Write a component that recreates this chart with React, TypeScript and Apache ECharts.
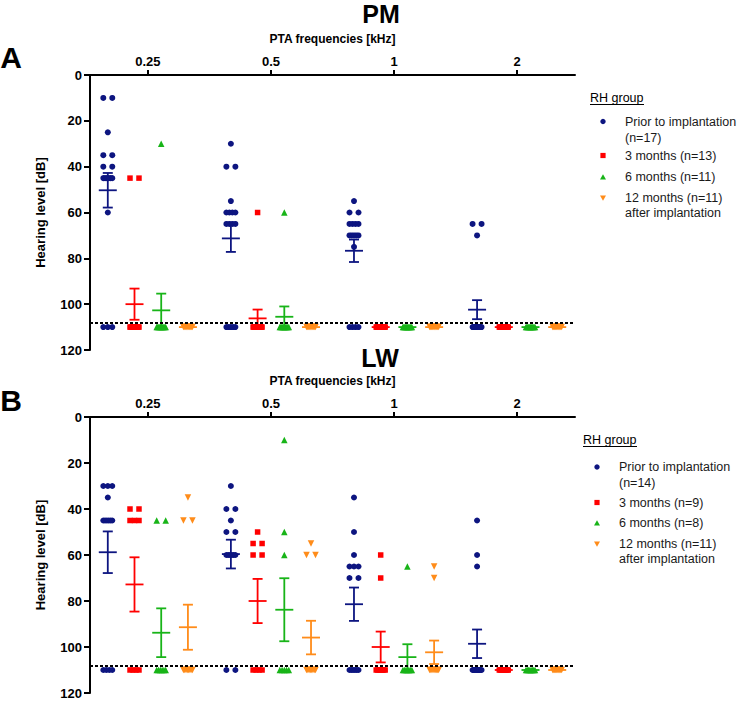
import React, { useEffect, useRef } from "react";
import * as echarts from "echarts";

// ---------- DATA ----------
const freqLabels = ["0.25", "0.5", "1", "2"];
const pmLegend = ["Prior to implantation", "(n=17)", "3 months (n=13)", "6 months (n=11)", "12 months (n=11)", "after implantation"];
const lwLegend = ["Prior to implantation", "(n=14)", "3 months (n=9)", "6 months (n=8)", "12 months (n=11)", "after implantation"];

// PM – individual hearing levels [dB], one list per frequency
const pmPrior = [
  [10, 10, 25, 35, 35, 40, 40, 45, 45, 45, 45, 45, 45, 60, 110, 110, 110],
  [30, 40, 40, 55, 60, 60, 60, 60, 65, 65, 65, 65, 110, 110, 110, 110, 110],
  [55, 60, 60, 65, 65, 65, 65, 70, 70, 70, 70, 70, 75, 110, 110, 110, 110],
  [65, 65, 70, 110, 110, 110, 110, 110, 110, 110, 110, 110, 110, 110, 110, 110, 110],
];
const pm3m = [
  [45, 45, 110, 110, 110, 110, 110, 110, 110, 110, 110, 110, 110],
  [60, 110, 110, 110, 110, 110, 110, 110, 110, 110, 110, 110, 110],
  [110, 110, 110, 110, 110, 110, 110, 110, 110, 110, 110, 110, 110],
  [110, 110, 110, 110, 110, 110, 110, 110, 110, 110, 110, 110, 110],
];
const pm6m = [
  [30, 110, 110, 110, 110, 110, 110, 110, 110, 110, 110],
  [60, 110, 110, 110, 110, 110, 110, 110, 110, 110, 110],
  [110, 110, 110, 110, 110, 110, 110, 110, 110, 110, 110],
  [110, 110, 110, 110, 110, 110, 110, 110, 110, 110, 110],
];
const pm12m = [
  [110, 110, 110, 110, 110, 110, 110, 110, 110, 110, 110],
  [110, 110, 110, 110, 110, 110, 110, 110, 110, 110, 110],
  [110, 110, 110, 110, 110, 110, 110, 110, 110, 110, 110],
  [110, 110, 110, 110, 110, 110, 110, 110, 110, 110, 110],
];
// PM – mean and SEM per frequency
const pmPriorMean = [50.3, 71.3, 76.7, 102.4];
const pmPriorSem = [7.55, 5.9, 4.9, 4.15];
const pm3mMean = [100, 106.2, 110, 110];
const pm3mSem = [6.8, 3.85, 0, 0];
const pm6mMean = [102.7, 105.5, 110, 110];
const pm6mSem = [7.3, 4.5, 0, 0];
const pm12mMean = [110, 110, 110, 110];
const pm12mSem = [0, 0, 0, 0];

// LW – individual hearing levels [dB]
const lwPrior = [
  [30, 30, 30, 35, 45, 45, 45, 45, 45, 45, 110, 110, 110, 110],
  [30, 40, 40, 45, 50, 50, 60, 60, 60, 60, 60, 60, 110, 110],
  [35, 50, 60, 65, 65, 65, 70, 70, 110, 110, 110, 110, 110, 110],
  [45, 60, 65, 110, 110, 110, 110, 110, 110, 110, 110, 110, 110, 110],
];
const lw3m = [
  [40, 40, 45, 45, 45, 110, 110, 110, 110],
  [50, 55, 55, 60, 60, 110, 110, 110, 110],
  [60, 70, 110, 110, 110, 110, 110, 110, 110],
  [110, 110, 110, 110, 110, 110, 110, 110, 110],
];
const lw6m = [
  [45, 45, 110, 110, 110, 110, 110, 110],
  [10, 50, 60, 110, 110, 110, 110, 110],
  [65, 110, 110, 110, 110, 110, 110, 110],
  [110, 110, 110, 110, 110, 110, 110, 110],
];
const lw12m = [
  [35, 45, 45, 110, 110, 110, 110, 110, 110, 110, 110],
  [55, 60, 60, 110, 110, 110, 110, 110, 110, 110, 110],
  [65, 70, 110, 110, 110, 110, 110, 110, 110, 110, 110],
  [110, 110, 110, 110, 110, 110, 110, 110, 110, 110, 110],
];
const lwPriorMean = [58.8, 59.6, 81.4, 98.6];
const lwPriorSem = [9.05, 6.25, 7.25, 6.2];
const lw3mMean = [72.8, 80, 100, 110];
const lw3mSem = [11.8, 9.6, 6.7, 0];
const lw6mMean = [93.8, 83.8, 104.4, 110];
const lw6mSem = [10.6, 13.7, 5.6, 0];
const lw12mMean = [91.4, 95.9, 102.3, 110];
const lw12mSem = [9.8, 7.3, 5.1, 0];

const thresholdDb = 108;

// ---------- STYLE ----------
const FONT = "'Liberation Sans', Arial, Helvetica, sans-serif";
const colors = ["#0d1580", "#ff0000", "#18b418", "#ff8c1a"];
const symbols = ["circle", "rect", "triangle", "path://M0,0L10,0L5,8.66Z"];
const symbolSizes = [6, 5.5, 6.5, 6.5];
const X_MIN = 0.53;
const X_MAX = 4.47;
const SUB = 0.217; // spacing between groups inside one frequency
const SWARM = 0.073; // horizontal spread of tied values

function swarm(vals: number[], center: number) {
  const counts = new Map<number, number>();
  vals.forEach((v) => counts.set(v, (counts.get(v) || 0) + 1));
  const seen = new Map<number, number>();
  return vals.map((v) => {
    const k = counts.get(v)!;
    const i = seen.get(v) || 0;
    seen.set(v, i + 1);
    const off = k === 1 ? 0 : (i / (k - 1) - 0.5) * SWARM;
    return [center + off, v];
  });
}

function errRender(color: string) {
  return (params: any, api: any) => {
    const x = api.value(0);
    const m = api.value(1);
    const s = api.value(2);
    const c = api.coord([x, m]);
    const t = api.coord([x, m - s]);
    const b = api.coord([x, m + s]);
    const style = { stroke: color, lineWidth: 1.8, fill: "none" };
    const children: any[] = [
      { type: "line", shape: { x1: c[0] - 9, y1: c[1], x2: c[0] + 9, y2: c[1] }, style },
    ];
    if (s > 0) {
      children.push(
        { type: "line", shape: { x1: t[0], y1: t[1], x2: b[0], y2: b[1] }, style },
        { type: "line", shape: { x1: t[0] - 5, y1: t[1], x2: t[0] + 5, y2: t[1] }, style },
        { type: "line", shape: { x1: b[0] - 5, y1: b[1], x2: b[0] + 5, y2: b[1] }, style }
      );
    }
    return { type: "group", children };
  };
}

const panels = [
  {
    values: [pmPrior, pm3m, pm6m, pm12m],
    means: [pmPriorMean, pm3mMean, pm6mMean, pm12mMean],
    sems: [pmPriorSem, pm3mSem, pm6mSem, pm12mSem],
    grid: { left: 90, top: 75, width: 485, height: 275 },
  },
  {
    values: [lwPrior, lw3m, lw6m, lw12m],
    means: [lwPriorMean, lw3mMean, lw6mMean, lw12mMean],
    sems: [lwPriorSem, lw3mSem, lw6mSem, lw12mSem],
    grid: { left: 90, top: 417, width: 485, height: 276 },
  },
];

function legendGraphics(x0: number, headY: number, markX: number, textX: number, lines: string[], ys: number[], markYs: number[]) {
  const els: any[] = [];
  els.push({
    type: "text",
    x: x0,
    y: headY,
    style: { text: "RH group", font: `12.5px ${FONT}`, fill: "#000", verticalAlign: "middle", align: "left" },
  });
  els.push({ type: "line", shape: { x1: x0, y1: headY + 6.5, x2: x0 + 54, y2: headY + 6.5 }, style: { stroke: "#000", lineWidth: 1 } });
  lines.forEach((t, i) => {
    els.push({
      type: "text",
      x: textX,
      y: ys[i],
      style: { text: t, font: `12.5px ${FONT}`, fill: "#1a1a1a", verticalAlign: "middle", align: "left" },
    });
  });
  els.push({ type: "circle", shape: { cx: markX, cy: markYs[0], r: 2.7 }, style: { fill: colors[0] } });
  els.push({ type: "rect", shape: { x: markX - 2.6, y: markYs[1] - 2.6, width: 5.2, height: 5.2 }, style: { fill: colors[1] } });
  els.push({
    type: "polygon",
    shape: { points: [[markX - 3, markYs[2] + 2.5], [markX + 3, markYs[2] + 2.5], [markX, markYs[2] - 2.8]] },
    style: { fill: colors[2] },
  });
  els.push({
    type: "polygon",
    shape: { points: [[markX - 3, markYs[3] - 2.5], [markX + 3, markYs[3] - 2.5], [markX, markYs[3] + 2.8]] },
    style: { fill: colors[3] },
  });
  return els;
}

function buildOption() {
  const grid: any[] = [];
  const xAxis: any[] = [];
  const yAxis: any[] = [];
  const series: any[] = [];
  panels.forEach((p, pi) => {
    grid.push({ ...p.grid, containLabel: false });
    xAxis.push({
      type: "value",
      gridIndex: pi,
      position: "top",
      min: X_MIN,
      max: X_MAX,
      name: "PTA frequencies [kHz]",
      nameLocation: "middle",
      nameGap: 30,
      nameTextStyle: { fontFamily: FONT, fontWeight: "bold", fontSize: 12, color: "#000" },
      axisLine: { show: true, onZero: false, lineStyle: { color: "#000", width: 2 } },
      axisTick: { show: true, inside: false, length: 5, customValues: [1, 2, 3, 4], lineStyle: { color: "#000", width: 2 } },
      axisLabel: {
        show: true,
        customValues: [1, 2, 3, 4],
        formatter: (v: number) => freqLabels[Math.round(v) - 1] ?? "",
        fontFamily: FONT,
        fontWeight: "bold",
        fontSize: 13,
        color: "#000",
        margin: 7,
      },
      splitLine: { show: false },
    });
    yAxis.push({
      type: "value",
      gridIndex: pi,
      inverse: true,
      min: 0,
      max: 120,
      interval: 20,
      name: "Hearing level [dB]",
      nameLocation: "middle",
      nameGap: 43,
      nameTextStyle: { fontFamily: FONT, fontWeight: "bold", fontSize: 13, color: "#000" },
      axisLine: { show: true, onZero: false, lineStyle: { color: "#000", width: 2 } },
      axisTick: { show: true, length: 6, lineStyle: { color: "#000", width: 2 } },
      axisLabel: { fontFamily: FONT, fontWeight: "bold", fontSize: 13, color: "#000", margin: 8 },
      splitLine: { show: false },
    });
    p.values.forEach((grp, gi) => {
      const data: number[][] = [];
      grp.forEach((vals, fi) => {
        data.push(...swarm(vals, fi + 1 + (gi - 1.5) * SUB));
      });
      const s: any = {
        type: "scatter",
        xAxisIndex: pi,
        yAxisIndex: pi,
        data,
        symbol: symbols[gi],
        symbolSize: symbolSizes[gi],
        itemStyle: { color: colors[gi], opacity: 1 },
        silent: true,
        z: 2,
      };
      if (gi === 3) {
        s.markLine = {
          silent: true,
          symbol: "none",
          label: { show: false },
          lineStyle: { color: "#000", type: [3, 2], width: 2 },
          data: [{ yAxis: thresholdDb }],
          z: 5,
        };
      }
      series.push(s);
      series.push({
        type: "custom",
        xAxisIndex: pi,
        yAxisIndex: pi,
        data: p.means[gi].map((m, fi) => [fi + 1 + (gi - 1.5) * SUB, m, p.sems[gi][fi]]),
        encode: { x: 0, y: 1 },
        renderItem: errRender(colors[gi]),
        silent: true,
        z: 3,
      });
    });
  });

  const graphic: any[] = [
    { type: "text", x: 11, y: 57, style: { text: "A", font: `bold 30px ${FONT}`, fill: "#000", align: "center", verticalAlign: "middle" } },
    { type: "text", x: 11, y: 400, style: { text: "B", font: `bold 30px ${FONT}`, fill: "#000", align: "center", verticalAlign: "middle" } },
    { type: "text", x: 381, y: 14, style: { text: "PM", font: `bold 25px ${FONT}`, fill: "#000", align: "center", verticalAlign: "middle" } },
    { type: "text", x: 380, y: 358, style: { text: "LW", font: `bold 25px ${FONT}`, fill: "#000", align: "center", verticalAlign: "middle" } },
    ...legendGraphics(590, 98, 603, 625, pmLegend, [121.5, 138, 155.5, 177, 198, 213], [121.5, 155.5, 177, 198]),
    ...legendGraphics(583, 440, 597, 619, lwLegend, [467, 483, 502.5, 523, 544, 558.5], [467, 502.5, 523, 544]),
  ];

  return {
    animation: false,
    backgroundColor: "#fff",
    textStyle: { fontFamily: FONT },
    grid,
    xAxis,
    yAxis,
    series,
    graphic,
  };
}

export default function App() {
  const ref = useRef<HTMLDivElement>(null);
  useEffect(() => {
    if (!ref.current) return;
    const chart = echarts.init(ref.current, undefined, { renderer: "svg" });
    chart.setOption(buildOption() as any);
    return () => chart.dispose();
  }, []);
  return <div ref={ref} style={{ position: "fixed", left: 0, top: 0, width: 738, height: 703, background: "#fff" }} />;
}
